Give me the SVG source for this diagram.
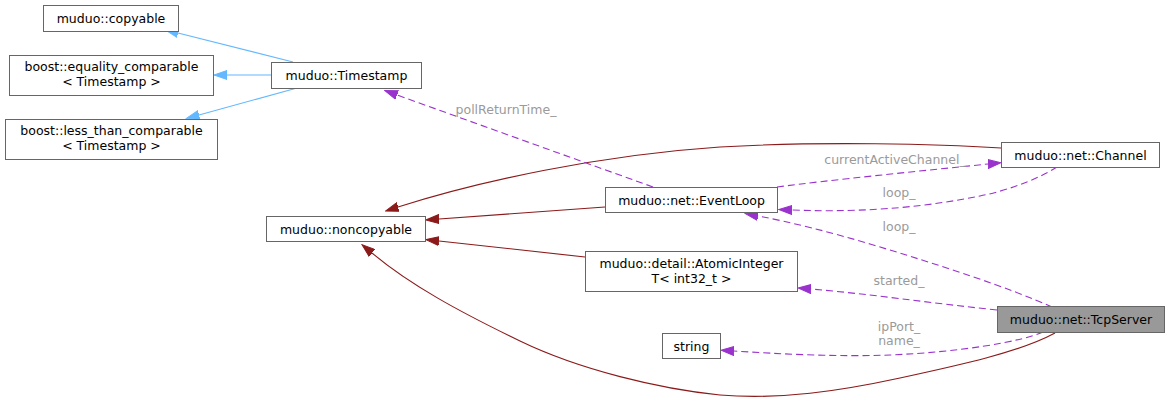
<svg xmlns="http://www.w3.org/2000/svg" width="1169" height="403" viewBox="0 0 1169 403">
<style>
.node rect{fill:#ffffff;stroke:#666666;stroke-width:1}
.node.cur rect{fill:#999999}
.node text{font-family:"DejaVu Sans","Liberation Sans",sans-serif;font-size:12.5px;fill:#000000;text-anchor:middle}
.e{fill:none;stroke-width:1.1}
.blue{stroke:#63b8ff;marker-end:url(#ab)}
.red{stroke:#8b1a1a;marker-end:url(#ar)}
.use{stroke:#9a32cd;stroke-dasharray:7,4;marker-end:url(#ap)}
.lbl{font-family:"DejaVu Sans","Liberation Sans",sans-serif;font-size:12.5px;fill:#9a9a9a;text-anchor:middle}
</style>
<defs>
<marker id="ab" markerUnits="userSpaceOnUse" viewBox="0 -5 14 10" refX="0" refY="0" markerWidth="14" markerHeight="10" orient="auto"><path d="M0,-4.5L13,0L0,4.5z" fill="#63b8ff" stroke="#63b8ff" stroke-width="1"/></marker>
<marker id="ar" markerUnits="userSpaceOnUse" viewBox="0 -5 14 10" refX="0" refY="0" markerWidth="14" markerHeight="10" orient="auto"><path d="M0,-4.5L13,0L0,4.5z" fill="#8b1a1a" stroke="#8b1a1a" stroke-width="1"/></marker>
<marker id="ap" markerUnits="userSpaceOnUse" viewBox="0 -5 14 10" refX="0" refY="0" markerWidth="14" markerHeight="10" orient="auto"><path d="M0,-4.5L13,0L0,4.5z" fill="#9a32cd" stroke="#9a32cd" stroke-width="1"/></marker>
</defs>
<rect width="1169" height="403" fill="#ffffff"/>
<g id="connectors">
<path class="e blue" d="M293,62L178,33"/>
<path class="e blue" d="M271,75L227,75"/>
<path class="e blue" d="M297,88L199,115"/>
<path class="e red" d="M1001,148C940,144 820,141 720,147C600,155 480,181 398,207"/>
<path class="e red" d="M605,207L439,219"/>
<path class="e red" d="M585,257L439,241"/>
<path class="e red" d="M1055,333C1020,352 960,365 900,378C840,391 780,400 720,395C660,389 580,370 520,341C460,312 410,285 372,253"/>
<path class="e use" d="M653,187L397,95"/>
<text class="lbl" x="506" y="113.5">pollReturnTime_</text>
<path class="e use" d="M777,187C830,180 920,171 988,164"/>
<text class="lbl" x="895" y="163.5">currentActiveChannel_</text>
<path class="e use" d="M1057,167C1040,178 1010,190 980,196C930,206 870,213 792,210"/>
<text class="lbl" x="899" y="197">loop_</text>
<path class="e use" d="M1052,307C1010,288 940,265 870,244C830,232 790,222 758,216"/>
<text class="lbl" x="899" y="230.5">loop_</text>
<path class="e use" d="M997,310C930,303 870,294 811,289"/>
<text class="lbl" x="899" y="285">started_</text>
<path class="e use" d="M1043,332C1020,342 960,352 890,355C840,357 780,354 734,351"/>
<text class="lbl" x="899" y="330.5">ipPort_</text>
<text class="lbl" x="899" y="344.5">name_</text>
</g>
<g id="node-copyable" class="node"><rect x="43.5" y="5.5" width="135" height="26"/><text x="111" y="23">muduo::copyable</text></g>
<g id="node-equality" class="node"><rect x="9.5" y="55.5" width="204" height="40"/><text x="111.5" y="71">boost::equality_comparable</text><text x="111.5" y="86">&lt; Timestamp &gt;</text></g>
<g id="node-timestamp" class="node"><rect x="271.5" y="62.5" width="150" height="26"/><text x="346.5" y="80">muduo::Timestamp</text></g>
<g id="node-lessthan" class="node"><rect x="5.5" y="119.5" width="212" height="40"/><text x="111.5" y="135">boost::less_than_comparable</text><text x="111.5" y="150">&lt; Timestamp &gt;</text></g>
<g id="node-noncopyable" class="node"><rect x="266.5" y="216.5" width="159" height="25"/><text x="346" y="233.5">muduo::noncopyable</text></g>
<g id="node-eventloop" class="node"><rect x="605.5" y="187.5" width="172" height="25"/><text x="691.5" y="204.5">muduo::net::EventLoop</text></g>
<g id="node-channel" class="node"><rect x="1001.5" y="142.5" width="158" height="25"/><text x="1080.5" y="159.5">muduo::net::Channel</text></g>
<g id="node-atomic" class="node"><rect x="585.5" y="251.5" width="212" height="40"/><text x="691.5" y="267.5">muduo::detail::AtomicInteger</text><text x="691.5" y="282.5">T&lt; int32_t &gt;</text></g>
<g id="node-string" class="node"><rect x="662.5" y="333.5" width="58" height="25"/><text x="691.5" y="350.5">string</text></g>
<g id="node-tcpserver" class="node cur"><rect x="997.5" y="306.5" width="167" height="26"/><text x="1081" y="324">muduo::net::TcpServer</text></g>
</svg>
